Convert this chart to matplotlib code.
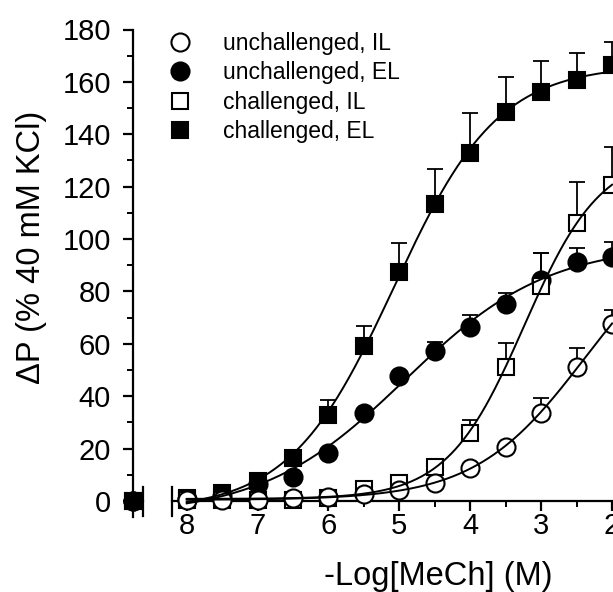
import numpy as np
import matplotlib
matplotlib.use('Agg')
import matplotlib.pyplot as plt
from matplotlib.lines import Line2D

plt.rcParams['font.family'] = ['Liberation Sans', 'DejaVu Sans']

# ---------------- data ----------------
neg_log_mech = np.array([8, 7.5, 7, 6.5, 6, 5.5, 5, 4.5, 4, 3.5, 3, 2.5, 2])
x_ticks = [8, 7, 6, 5, 4, 3, 2]
series_labels = ["unchallenged, IL", "unchallenged, EL", "challenged, IL", "challenged, EL"]

unch_IL = np.array([0.3, 0.3, 0.5, 1.0, 1.6, 2.5, 4.3, 6.9, 12.6, 20.8, 33.7, 51.1, 67.6])
unch_IL_err = np.array([0, 0, 0, 0, 0, 0, 0.5, 1.0, 1.5, 1.5, 5.8, 7.3, 5.3])

unch_EL = np.array([0.8, 2.0, 6.5, 9.2, 18.4, 33.6, 47.8, 57.4, 66.5, 75.3, 84.5, 91.2, 93.0])
unch_EL_err = np.array([0, 0, 0, 0, 0, 0.5, 1.5, 3.4, 4.4, 4.2, 10.0, 5.5, 5.7])

chal_IL = np.array([0.4, 0.4, 0.3, 0.5, 1.1, 4.5, 6.9, 13.1, 26.1, 51.0, 82.0, 106.0, 120.5])
chal_IL_err = np.array([0, 0, 0, 0, 0, 0, 0, 1.0, 5.0, 9.2, 12.5, 15.6, 14.5])

chal_EL = np.array([1.1, 3.0, 7.5, 16.5, 33.0, 59.0, 87.6, 113.2, 133.0, 148.5, 156.3, 160.6, 166.3])
chal_EL_err = np.array([0, 0, 0.5, 1.5, 5.5, 7.8, 10.9, 13.5, 15.0, 13.3, 11.7, 10.4, 8.9])

baseline_values = [0, 0, 0, 0]   # response with no agonist

# ---------------- layout constants ----------------
BASELINE_X = 8.753
BREAK_X = (8.62, 8.21)


def hill_fit(x, y):
    p = np.arange(1.0, 8.0, 0.01)
    n = np.arange(0.3, 3.0, 0.01)
    P, N = np.meshgrid(p, n, indexing='ij')
    f = 1.0 / (1.0 + 10.0 ** (N[..., None] * (x[None, None, :] - P[..., None])))
    a1 = 1 - f
    a2 = f
    s11 = (a1 * a1).sum(-1)
    s12 = (a1 * a2).sum(-1)
    s22 = (a2 * a2).sum(-1)
    r1 = (a1 * y).sum(-1)
    r2 = (a2 * y).sum(-1)
    det = s11 * s22 - s12 ** 2
    ok = det > 1e-9
    det = np.where(ok, det, 1.0)
    b = (s22 * r1 - s12 * r2) / det
    t = (s11 * r2 - s12 * r1) / det
    pred = b[..., None] * a1 + t[..., None] * a2
    sse = ((pred - y) ** 2).sum(-1)
    sse = np.where(ok, sse, np.inf)
    i = np.unravel_index(np.argmin(sse), sse.shape)
    return b[i], t[i], P[i], N[i]


def hill(xx, b, t, p, n):
    return b + (t - b) / (1.0 + 10.0 ** (n * (xx - p)))


fig = plt.figure(figsize=(6.13, 5.92), dpi=100)
ax = fig.add_axes([133.3 / 613, 1 - 516.7 / 592, (612.1 - 133.3) / 613, (516.7 - 29.5) / 592])

series = [
    (unch_EL, unch_EL_err, 'o', 'black', 13),
    (chal_EL, chal_EL_err, 's', 'black', 12),
    (chal_IL, chal_IL_err, 's', 'white', 12),
    (unch_IL, unch_IL_err, 'o', 'white', 13),
]

xs = np.linspace(8, 2, 400)
for i, (vals, err, mk, fc, ms) in enumerate(series):
    ax.errorbar(neg_log_mech, vals, yerr=[np.zeros_like(err), err], fmt='none',
                ecolor='black', elinewidth=1.3, capsize=5.5, capthick=1.3,
                zorder=2 + i * 0.1, clip_on=False)
    ax.plot(neg_log_mech, vals, linestyle='none', marker=mk, markersize=ms,
            markerfacecolor=fc, markeredgecolor='black', markeredgewidth=1.5,
            zorder=3 + i * 0.1, clip_on=False)
    b, t, p, n = hill_fit(neg_log_mech.astype(float), vals)
    ax.plot(xs, hill(xs, b, t, p, n), color='black', lw=1.4, zorder=5, clip_on=False)

# baseline (no agonist) points on the y axis
for v, mk, fc, ms in zip(baseline_values, ['o', 'o', 's', 's'],
                         ['white', 'black', 'white', 'black'], [13, 13, 12, 12]):
    ax.plot([BASELINE_X], [v], linestyle='none', marker=mk, markersize=ms,
            markerfacecolor=fc, markeredgecolor='black', markeredgewidth=1.5,
            zorder=6, clip_on=False)
ax.plot([BASELINE_X], [baseline_values[1]], linestyle='none', marker='o', markersize=13,
        color='black', zorder=7, clip_on=False)

ax.set_xlim(BASELINE_X, 2)
ax.set_ylim(-6, 180)

for s in ['top', 'right']:
    ax.spines[s].set_visible(False)
ax.spines['left'].set_linewidth(1.6)
ax.spines['bottom'].set_linewidth(1.6)
ax.spines['bottom'].set_position(('data', 0))
ax.spines['bottom'].set_bounds(BREAK_X[1], 2)
ax.spines['left'].set_bounds(-6, 180)

# axis break
ax.plot([BASELINE_X, BREAK_X[0]], [0, 0], color='black', lw=1.6, clip_on=False, zorder=1)
for bx in BREAK_X:
    ax.plot([bx, bx], [-5.7, 5.3], color='black', lw=1.6, clip_on=False, zorder=1)

ax.set_xticks(x_ticks)
ax.set_xticklabels([str(v) for v in x_ticks])
ax.set_xticks(np.arange(7.5, 2.0, -1.0), minor=True)
ax.set_yticks(np.arange(0, 181, 20))
ax.set_yticks(np.arange(10, 180, 20), minor=True)
ax.tick_params(axis='both', which='major', direction='out', width=1.6, labelsize=21)
ax.tick_params(axis='x', which='major', length=7, pad=1)
ax.tick_params(axis='y', which='major', length=7, pad=9)
ax.tick_params(axis='both', which='minor', direction='out', width=1.4, length=4)

fig.text(438 / 613, 1 - 576 / 592, '-Log[MeCh] (M)', fontsize=23.5, ha='center', va='center')
fig.text(32 / 613, 1 - 247 / 592, 'ΔP (% 40 mM KCl)', fontsize=23.5, ha='center',
         va='center', rotation=90)

handles = [
    Line2D([], [], linestyle='none', marker='o', markersize=13, markerfacecolor='white',
           markeredgecolor='black', markeredgewidth=1.5),
    Line2D([], [], linestyle='none', marker='o', markersize=13, markerfacecolor='black',
           markeredgecolor='black', markeredgewidth=1.5),
    Line2D([], [], linestyle='none', marker='s', markersize=12, markerfacecolor='white',
           markeredgecolor='black', markeredgewidth=1.5),
    Line2D([], [], linestyle='none', marker='s', markersize=12, markerfacecolor='black',
           markeredgecolor='black', markeredgewidth=1.5),
]
fig.legend(handles, series_labels, loc='upper left',
           bbox_to_anchor=(168.5 / 613, 1 - 32 / 592), bbox_transform=fig.transFigure,
           frameon=False, fontsize=16.5, handlelength=1.0, handletextpad=1.37,
           labelspacing=0.28, borderpad=0, borderaxespad=0)

fig.savefig('out.png', dpi=100)
